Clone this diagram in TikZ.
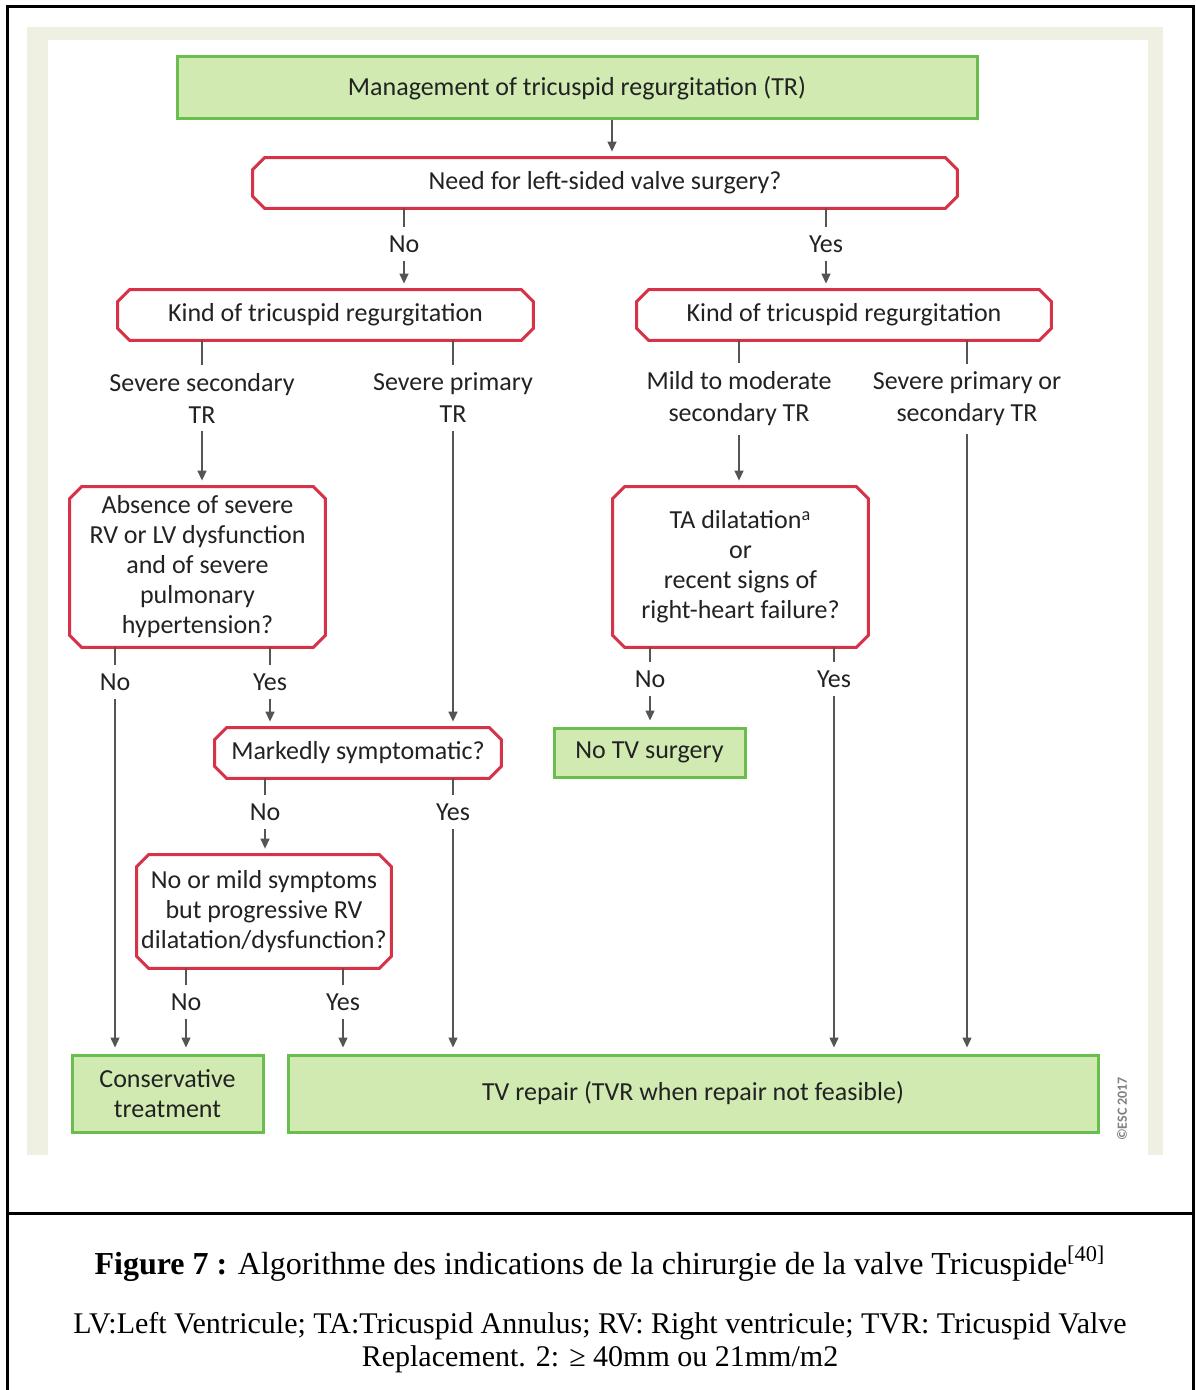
\documentclass[tikz,border=0pt]{standalone}
\usepackage{fontspec}
\setmainfont{Liberation Serif}
\newfontfamily\gillfont{Carlito}
\usetikzlibrary{arrows.meta, positioning}

\definecolor{escgreen}{HTML}{6ABE4D}
\definecolor{escfill}{HTML}{D0EAB2}
\definecolor{escred}{HTML}{D63349}
\definecolor{escbeige}{HTML}{EFEFE2}
\definecolor{esctext}{HTML}{222222}
\definecolor{escline}{HTML}{555555}

\begin{document}
\begin{tikzpicture}[
	x=0.5pt, y=-0.5pt,
	greenbox/.style={
		rectangle,
		draw=escgreen,
		fill=escfill,
		line width=1.5pt,
		align=center,
		text=esctext,
		font=\gillfont\fontsize{13}{15}\selectfont
	},
	redbox/.style={
		rectangle,
		align=center,
		text=esctext,
		font=\gillfont\fontsize{13}{15}\selectfont,
		append after command={\pgfextra{
			\draw[escred, line width=1.5pt]
				([xshift=6pt]\tikzlastnode.north west) -- ([xshift=-6pt]\tikzlastnode.north east)
				-- ([yshift=-6pt]\tikzlastnode.north east) -- ([yshift=6pt]\tikzlastnode.south east)
				-- ([xshift=-6pt]\tikzlastnode.south east) -- ([xshift=6pt]\tikzlastnode.south west)
				-- ([yshift=6pt]\tikzlastnode.south west) -- ([yshift=-6pt]\tikzlastnode.north west)
				-- cycle;
		}}
	},
	lbl/.style={
		align=center,
		inner sep=4pt,
		text=esctext,
		font=\gillfont\fontsize{13}{16}\selectfont
	},
	stub/.style={escline, line width=0.7pt},
	arrow/.style={-{Triangle[length=5pt, width=4.5pt]}, escline, line width=0.7pt, shorten >=3pt}
]

	\useasboundingbox (0,0) rectangle (1195,1390);

	% frame and background
	\draw[line width=1.5pt] (7,1395) -- (7,7) -- (1193,7) -- (1193,1395);
	\draw[line width=1.5pt] (7,1213) -- (1193,1213);
	\fill[escbeige] (27,27) rectangle (1163,1155);
	\fill[white] (48,40) rectangle (1148,1155);

	\node[greenbox, minimum width=400pt, minimum height=31pt] (mgmt) at (577,88) {Management of tricuspid regurgitation (TR)};
	\node[redbox, minimum width=352pt, minimum height=25pt] (need) at (605,183) {Need for left-sided valve surgery?};
	\coordinate (top) at (612,152);

	\node[lbl] (no1) at (404,244) {No};
	\node[lbl] (yes1) at (826,244) {Yes};

	\node[redbox, minimum width=207.5pt, minimum height=25pt] (kindL) at (325.5,315) {Kind of tricuspid regurgitation};
	\node[redbox, minimum width=207pt, minimum height=25pt] (kindR) at (844,315) {Kind of tricuspid regurgitation};

	\node[lbl] (sevsec) at (202,398) {Severe secondary\\TR};
	\node[lbl] (sevprim) at (453,398) {Severe primary\\TR};
	\node[lbl] (mildmod) at (739,399) {Mild to moderate\\secondary TR};
	\node[lbl] (sevboth) at (967,399) {Severe primary or\\secondary TR};

	\node[redbox, minimum width=127.5pt, minimum height=80pt] (absence) at (197.5,567) {Absence of severe\\RV or LV dysfunction\\and of severe\\pulmonary\\hypertension?};
	\node[redbox, minimum width=127.5pt, minimum height=80pt] (tadil) at (740.5,567) {TA dilatation\textsuperscript{a}\\or\\recent signs of\\right-heart failure?};

	\node[lbl] (no2) at (115,682) {No};
	\node[lbl] (yes2) at (270,682) {Yes};
	\node[lbl] (no3) at (650,679) {No};
	\node[lbl] (yes3) at (834,679) {Yes};

	\node[redbox, minimum width=143pt, minimum height=25pt] (marked) at (358,753) {Markedly symptomatic?};
	\node[greenbox, minimum width=95.5pt, minimum height=24.5pt] (notv) at (649.5,752.5) {No TV surgery};

	\node[lbl] (no4) at (265,812) {No};
	\node[lbl] (yes4) at (453,812) {Yes};

	\node[redbox, inner xsep=1pt, minimum width=127pt, minimum height=56.5pt] (mild) at (264,911.5) {No or mild symptoms\\but progressive RV\\dilatation/dysfunction?};

	\node[lbl] (no5) at (186,1002) {No};
	\node[lbl] (yes5) at (343,1002) {Yes};

	\node[greenbox, minimum width=95.5pt, minimum height=38.5pt] (cons) at (167.5,1093.5) {Conservative\\treatment};
	\node[greenbox, minimum width=405pt, minimum height=38.5pt] (repair) at (693,1093.5) {TV repair (TVR when repair not feasible)};

	\node[rotate=90, text=gray, font=\gillfont\bfseries\fontsize{7}{8}\selectfont] (esc) at (1122,1109) {\copyright ESC 2017};

	% caption
	\node[font=\fontsize{16}{18}\selectfont] (cap) at (600,1264) {\textbf{Figure 7 :} Algorithme des indications de la chirurgie de la valve Tricuspide\textsuperscript{[40]}};
	\node[align=center, font=\fontsize{15}{16.5}\selectfont] (legend) at (600,1343) {LV:Left Ventricule; TA:Tricuspid Annulus; RV: Right ventricule; TVR: Tricuspid Valve\\Replacement. 2: ≥ 40mm ou 21mm/m2};

	% connectors
	\draw[arrow] (mgmt.south -| top) -- (top |- need.north);

	\draw[stub] (need.south -| no1) -- (no1);
	\draw[arrow] (no1) -- (no1 |- kindL.north);
	\draw[stub] (need.south -| yes1) -- (yes1);
	\draw[arrow] (yes1) -- (yes1 |- kindR.north);

	\draw[stub] (kindL.south -| sevsec) -- (sevsec);
	\draw[stub] (kindL.south -| sevprim) -- (sevprim);
	\draw[stub] (kindR.south -| mildmod) -- (mildmod);
	\draw[stub] (kindR.south -| sevboth) -- (sevboth);

	\draw[arrow] (sevsec) -- (sevsec |- absence.north);
	\draw[arrow] (sevprim) -- (sevprim |- marked.north);
	\draw[arrow] (mildmod) -- (mildmod |- tadil.north);
	\draw[arrow] (sevboth) -- (sevboth |- repair.north);

	\draw[stub] (absence.south -| no2) -- (no2);
	\draw[arrow] (no2) -- (no2 |- cons.north);
	\draw[stub] (absence.south -| yes2) -- (yes2);
	\draw[arrow] (yes2) -- (yes2 |- marked.north);

	\draw[stub] (tadil.south -| no3) -- (no3);
	\draw[arrow] (no3) -- (no3 |- notv.north);
	\draw[stub] (tadil.south -| yes3) -- (yes3);
	\draw[arrow] (yes3) -- (yes3 |- repair.north);

	\draw[stub] (marked.south -| no4) -- (no4);
	\draw[arrow] (no4) -- (no4 |- mild.north);
	\draw[stub] (marked.south -| yes4) -- (yes4);
	\draw[arrow] (yes4) -- (yes4 |- repair.north);

	\draw[stub] (mild.south -| no5) -- (no5);
	\draw[arrow] (no5) -- (no5 |- cons.north);
	\draw[stub] (mild.south -| yes5) -- (yes5);
	\draw[arrow] (yes5) -- (yes5 |- repair.north);

\end{tikzpicture}
\end{document}
